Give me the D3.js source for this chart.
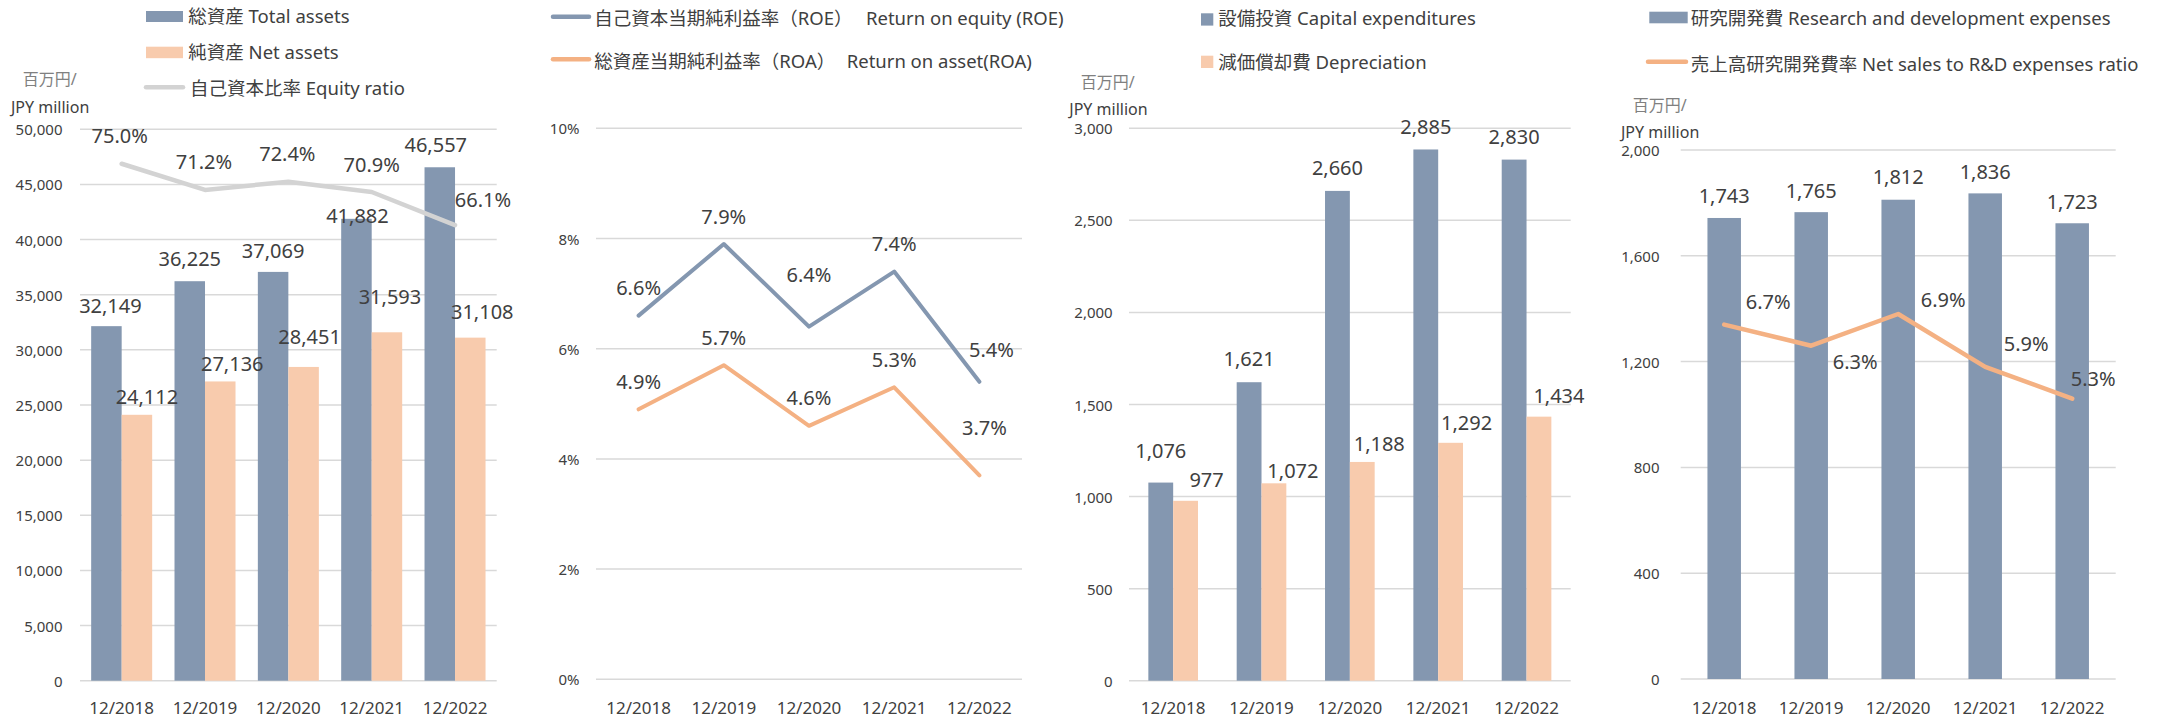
<!DOCTYPE html>
<html>
<head>
<meta charset="utf-8">
<script src="https://cdn.jsdelivr.net/npm/d3@7"></script>
<style>
  body { margin: 0; background: #fff; }
  text { font-family: "Noto Sans", "Noto Sans CJK JP", sans-serif; }
</style>
</head>
<body>
<div id="chart"></div>
<script>
// data
var years = ['12/2018', '12/2019', '12/2020', '12/2021', '12/2022'];

var totalAssets = [32149, 36225, 37069, 41882, 46557];
var netAssets = [24112, 27136, 28451, 31593, 31108];
var equityRatio = [75.0, 71.2, 72.4, 70.9, 66.1];

var roe = [6.6, 7.9, 6.4, 7.4, 5.4];
var roa = [4.9, 5.7, 4.6, 5.3, 3.7];

var capex = [1076, 1621, 2660, 2885, 2830];
var depreciation = [977, 1072, 1188, 1292, 1434];

var rdExpenses = [1743, 1765, 1812, 1836, 1723];
var rdRatio = [6.7, 6.3, 6.9, 5.9, 5.3];

var assetTicks = [0, 5000, 10000, 15000, 20000, 25000, 30000, 35000, 40000, 45000, 50000];
var pctTicks = [0, 2, 4, 6, 8, 10];
var capexTicks = [0, 500, 1000, 1500, 2000, 2500, 3000];
var rdTicks = [0, 400, 800, 1200, 1600, 2000];

// label nudges [dx, dy above the mark]
var totalNudge = [[4, 21], [0, 23], [0, 21], [1, 3], [-4, 23]];
var netNudge = [[10, 18], [12, 18], [6, 30], [3, 36], [12, 26]];
var equityNudge = [[-2, 28], [-1, 28], [-1, 28], [0, 28], [28, 26]];
var roeNudge = [[0, 28], [0, 28], [0, 52], [0, 28], [12, 32]];
var roaNudge = [[0, 28], [0, 28], [0, 28], [0, 28], [5, 48]];
var capexNudge = [[0, 32], [0, 24], [0, 23], [0, 23], [0, 23]];
var depNudge = [[21, 21], [19, 13], [17, 18], [16, 20], [20, 21]];
var rdNudge = [[0, 22], [0, 22], [0, 23], [0, 22], [0, 22]];
var rdRatioNudge = [[44, 23], [44, -16], [45, 14], [41, 23], [21, 20]];

var BLUE = '#8497b0';
var PEACH = '#f8cbad';
var ORANGE = '#f4b183';
var GRAY = '#d3d3d3';
var TEXT = '#404040';

var svg = d3.select('#chart')
    .append('svg')
        .attr('width', 2160)
        .attr('height', 720);

var fmtNum = d3.format(',');
var fmtPct = function(d) { return d3.format('.1f')(d) + '%'; };

function drawGrid(y, ticks, x0, x1, labelX, fmt) {
    var g = svg.append('g');
    g.selectAll('line')
        .data(ticks)
        .enter()
        .append('line')
        .attr('x1', x0).attr('x2', x1)
        .attr('y1', d => y(d)).attr('y2', d => y(d))
        .style('stroke', '#d9d9d9')
        .style('stroke-width', 1.5);
    g.selectAll('text')
        .data(ticks)
        .enter()
        .append('text')
        .attr('x', labelX)
        .attr('y', d => y(d))
        .attr('text-anchor', 'end')
        .attr('dominant-baseline', 'central')
        .style('font-size', '15px')
        .style('fill', TEXT)
        .text(fmt);
}

function drawCategories(x) {
    svg.append('g')
        .selectAll('text')
        .data(years)
        .enter()
        .append('text')
        .attr('x', d => x(d) + x.bandwidth() / 2)
        .attr('y', 707)
        .attr('text-anchor', 'middle')
        .attr('dominant-baseline', 'central')
        .style('font-size', '17px')
        .style('fill', TEXT)
        .text(d => d);
}

// bars of one series inside a group that fills `frac` of each band
function drawBars(x, y, values, color, idx, count, frac, nudge, fmt) {
    var groupW = x.bandwidth() * frac;
    var w = groupW / count;
    var left = (d, i) => x(years[i]) + (x.bandwidth() - groupW) / 2 + idx * w;

    svg.append('g')
        .selectAll('rect')
        .data(values)
        .enter()
        .append('rect')
        .attr('x', left)
        .attr('y', d => y(d))
        .attr('width', w)
        .attr('height', d => y(0) - y(d))
        .style('fill', color);

    svg.append('g')
        .selectAll('text')
        .data(values)
        .enter()
        .append('text')
        .attr('x', (d, i) => left(d, i) + w / 2 + nudge[i][0])
        .attr('y', (d, i) => y(d) - nudge[i][1])
        .attr('text-anchor', 'middle')
        .attr('dominant-baseline', 'central')
        .style('font-size', '20px')
        .style('fill', TEXT)
        .text(fmt);
}

function drawLine(x, y, values, color, width, nudge) {
    var cx = (d, i) => x(years[i]) + x.bandwidth() / 2;
    var line = d3.line()
        .x(cx)
        .y(d => y(d));

    svg.append('path')
        .datum(values)
        .attr('d', line)
        .style('fill', 'none')
        .style('stroke', color)
        .style('stroke-width', width)
        .style('stroke-linecap', 'round')
        .style('stroke-linejoin', 'round');

    svg.append('g')
        .selectAll('text')
        .data(values)
        .enter()
        .append('text')
        .attr('x', (d, i) => cx(d, i) + nudge[i][0])
        .attr('y', (d, i) => y(d) - nudge[i][1])
        .attr('text-anchor', 'middle')
        .attr('dominant-baseline', 'central')
        .style('font-size', '20px')
        .style('fill', TEXT)
        .text(fmtPct);
}

function legendText(x, y, txt) {
    svg.append('text')
        .attr('x', x)
        .attr('y', y)
        .attr('dominant-baseline', 'central')
        .style('font-size', '18.5px')
        .style('fill', TEXT)
        .text(txt);
}

function legendRect(x, y, w, h, color) {
    svg.append('rect')
        .attr('x', x).attr('y', y)
        .attr('width', w).attr('height', h)
        .style('fill', color);
}

function legendLine(x0, x1, y, color) {
    svg.append('line')
        .attr('x1', x0).attr('x2', x1)
        .attr('y1', y).attr('y2', y)
        .style('stroke', color)
        .style('stroke-width', 4.5)
        .style('stroke-linecap', 'round');
}

function unitLabel(x1, y1, x2, y2) {
    svg.append('text')
        .attr('x', x1).attr('y', y1)
        .attr('dominant-baseline', 'central')
        .style('font-size', '16px')
        .style('fill', '#808080')
        .text('百万円/');
    svg.append('text')
        .attr('x', x2).attr('y', y2)
        .attr('dominant-baseline', 'central')
        .style('font-size', '16px')
        .style('fill', TEXT)
        .text('JPY million');
}

// ---------- panel 1: assets ----------
(function() {
    var x = d3.scaleBand().domain(years).range([80, 496.7]);
    var y = d3.scaleLinear().domain([0, 50000]).range([680.7, 129.3]);
    var y2 = d3.scaleLinear().domain([0, 80]).range([680.7, 129.3]);

    drawGrid(y, assetTicks, 80, 496.7, 62.5, fmtNum);
    drawCategories(x);
    drawBars(x, y, totalAssets, BLUE, 0, 2, 0.732, totalNudge, fmtNum);
    drawBars(x, y, netAssets, PEACH, 1, 2, 0.732, netNudge, fmtNum);
    drawLine(x, y2, equityRatio, GRAY, 4.5, equityNudge);

    unitLabel(22.7, 79, 11, 106.7);
    legendRect(146, 11, 37, 11, BLUE);
    legendText(188.3, 15.7, '総資産 Total assets');
    legendRect(146, 46.7, 37, 11.5, PEACH);
    legendText(188.3, 51.7, '純資産 Net assets');
    legendLine(146, 183, 87.3, GRAY);
    legendText(190, 87, '自己資本比率 Equity ratio');
})();

// ---------- panel 2: ROE / ROA ----------
(function() {
    var x = d3.scaleBand().domain(years).range([596, 1022]);
    var y = d3.scaleLinear().domain([0, 10]).range([679.3, 128.3]);

    drawGrid(y, pctTicks, 596, 1022, 579.5, d => d + '%');
    drawCategories(x);
    drawLine(x, y, roe, BLUE, 4, roeNudge);
    drawLine(x, y, roa, ORANGE, 4, roaNudge);

    legendLine(553, 589, 16.7, BLUE);
    legendText(594.3, 17, '自己資本当期純利益率（ROE）');
    legendText(866, 17, 'Return on equity (ROE)');
    legendLine(553, 589, 59.3, ORANGE);
    legendText(594.3, 60, '総資産当期純利益率（ROA）');
    legendText(846.7, 60, 'Return on asset(ROA)');
})();

// ---------- panel 3: capex / depreciation ----------
(function() {
    var x = d3.scaleBand().domain(years).range([1129, 1570.7]);
    var y = d3.scaleLinear().domain([0, 3000]).range([680.7, 128.3]);

    drawGrid(y, capexTicks, 1129, 1570.7, 1112.7, fmtNum);
    drawCategories(x);
    drawBars(x, y, capex, BLUE, 0, 2, 0.562, capexNudge, fmtNum);
    drawBars(x, y, depreciation, PEACH, 1, 2, 0.562, depNudge, fmtNum);

    unitLabel(1080.7, 82, 1069.3, 108.5);
    legendRect(1201, 13.3, 12.3, 12.3, BLUE);
    legendText(1218.3, 17.3, '設備投資 Capital expenditures');
    legendRect(1201, 55.7, 12.3, 12.3, PEACH);
    legendText(1218.3, 61, '減価償却費 Depreciation');
})();

// ---------- panel 4: R&D ----------
(function() {
    var x = d3.scaleBand().domain(years).range([1680.7, 2115.7]);
    var y = d3.scaleLinear().domain([0, 2000]).range([679, 150]);
    var y2 = d3.scaleLinear().domain([0, 10]).range([679, 150]);

    drawGrid(y, rdTicks, 1680.7, 2115.7, 1659.5, fmtNum);
    drawCategories(x);
    drawBars(x, y, rdExpenses, BLUE, 0, 1, 0.385, rdNudge, fmtNum);
    drawLine(x, y2, rdRatio, ORANGE, 4.5, rdRatioNudge);

    unitLabel(1632.7, 105, 1621, 132);
    legendRect(1649.3, 11.7, 38.4, 11.6, BLUE);
    legendText(1690.7, 17.3, '研究開発費 Research and development  expenses');
    legendLine(1648, 1686, 61.7, ORANGE);
    legendText(1690.7, 63.3, '売上高研究開発費率 Net sales to R&D expenses ratio');
})();
</script>
</body>
</html>
